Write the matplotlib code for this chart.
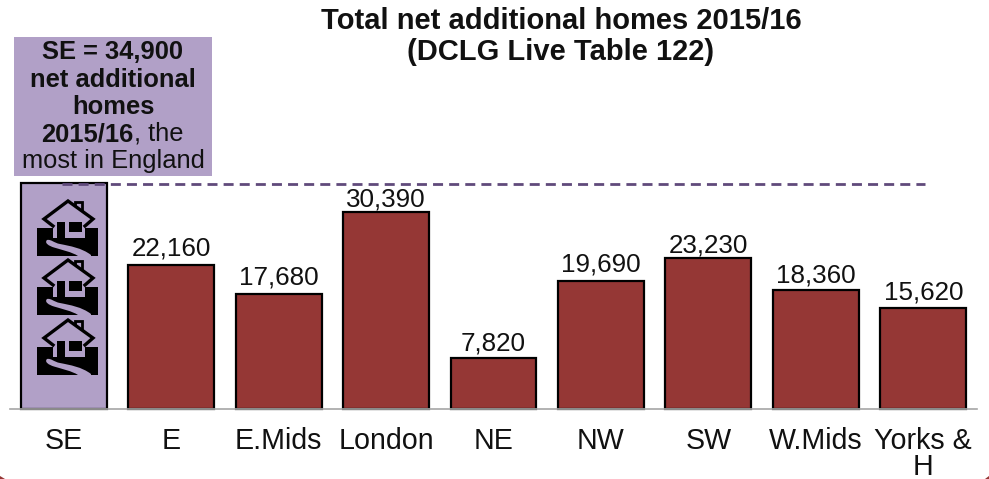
#!/usr/bin/env python3
# Total net additional homes by region, 2015/16

import matplotlib
matplotlib.use('Agg')
import matplotlib.pyplot as plt
from matplotlib.patches import Polygon, Rectangle, PathPatch
from matplotlib.path import Path

plt.rcParams['font.family'] = ['Liberation Sans', 'DejaVu Sans']

regions = ['SE', 'E', 'E.Mids', 'London', 'NE', 'NW', 'SW', 'W.Mids', 'Yorks &\nH']
homes = [34900, 22160, 17680, 30390, 7820, 19690, 23230, 18360, 15620]
bar_labels = ['', '22,160', '17,680', '30,390', '7,820', '19,690', '23,230', '18,360', '15,620']

PURPLE = '#B1A0C7'
RED = '#953735'
W, H = 989, 479

# label gap above each bar, in points
label_gap = [0, 3.2, 3.2, 0.6, 2.0, 3.4, 0.6, 2.0, 2.0]

fig = plt.figure(figsize=(W / 100, H / 100), dpi=100)
ax = fig.add_axes([10 / W, (H - 408.5) / H, 967 / W, 225.5 / H])

x = range(len(regions))
colors = [PURPLE] + [RED] * (len(regions) - 1)
ax.bar(x, homes, width=0.8, color=colors, edgecolor='black', linewidth=1.6, clip_on=False)
for i, lab in enumerate(bar_labels):
    if lab:
        ax.annotate(lab, (i, homes[i]), xytext=(0, label_gap[i]), textcoords='offset points',
                    ha='center', va='bottom', fontsize=18.7, color='#111111')

ax.set_xlim(-0.5, len(regions) - 0.5)
ax.set_ylim(0, 34900)
ax.set_yticks([])
ax.set_xticks(list(x))
ax.set_xticklabels(regions, fontsize=20.6, color='#111111', linespacing=0.95)
ax.tick_params(axis='x', length=0, pad=13)
for s in ['top', 'left', 'right']:
    ax.spines[s].set_visible(False)
ax.spines['bottom'].set_color('#A6A6A6')
ax.spines['bottom'].set_linewidth(1.2)

# overlay in pixel coordinates for the callout, dashed line and icons
ov = fig.add_axes([0, 0, 1, 1], facecolor='none')
ov.set_xlim(0, W)
ov.set_ylim(H, 0)
ov.axis('off')

ov.plot([62, 925], [184, 184], color='#604A7B', linewidth=2, linestyle=(0, (3.6, 2.2)))

ov.add_patch(Rectangle((14, 36.5), 197.5, 139.5, facecolor=PURPLE, edgecolor='none'))
box_lines = [('SE = 34,900', 52, 'bold'), ('net additional', 80, 'bold'), ('homes', 107, 'bold')]
for txt, yy, wt in box_lines:
    ov.text(113, yy, txt, ha='center', va='center', fontsize=18.4, fontweight=wt, color='#111111')
ov.text(133, 134, '2015/16', ha='right', va='center', fontsize=18.4, fontweight='bold', color='#111111')
ov.text(134, 134, ', the', ha='left', va='center', fontsize=18.4, color='#111111')
ov.text(113, 161, 'most in England', ha='center', va='center', fontsize=18.4, color='#111111')

ov.text(561, 21, 'Total net additional homes 2015/16', ha='center', va='center',
        fontsize=21, fontweight='bold', color='#111111')
ov.text(561, 52, '(DCLG Live Table 122)', ha='center', va='center',
        fontsize=21, fontweight='bold', color='#111111')


def draw_house(cx, top):
    def pts(seq):
        return [(cx + a, top + b) for a, b in seq]
    # ground block
    ov.add_patch(Polygon(pts([(-31, 28), (30, 28), (30, 56), (-31, 56)]),
                         facecolor='black', edgecolor='none'))
    # road
    road = [(-21, 40), (-17, 39), (-14, 43), (-8, 44), (2, 46), (14, 48), (23, 55),
            (23, 56), (10, 56), (4, 52), (-6, 50), (-14, 47.5), (-19, 46), (-24, 43), (-21, 40)]
    codes = [Path.MOVETO, Path.CURVE4, Path.CURVE4, Path.CURVE4, Path.CURVE4, Path.CURVE4, Path.CURVE4,
             Path.LINETO, Path.LINETO, Path.CURVE4, Path.CURVE4, Path.CURVE4, Path.CURVE4, Path.CURVE4, Path.CURVE4]
    ov.add_patch(PathPatch(Path(pts(road), codes), facecolor=PURPLE, edgecolor='none'))
    # chimney then house
    ov.add_patch(Rectangle((cx + 6.5, top + 2), 7, 15, facecolor=PURPLE, edgecolor='black', linewidth=2))
    ov.add_patch(Polygon(pts([(0, 1), (-24, 19), (-15, 25), (-15, 38), (17, 38), (17, 25), (25, 19)]),
                         facecolor=PURPLE, edgecolor='none'))
    ov.plot(*zip(*pts([(-15, 26), (-24, 19), (0, 1), (25, 19), (17, 26)])), color='black', linewidth=2.4,
            solid_joinstyle='miter')
    ov.add_patch(Rectangle((cx - 11, top + 22), 8, 16, facecolor='black', edgecolor='none'))
    ov.add_patch(Rectangle((cx + 1, top + 22), 13, 10, facecolor='black', edgecolor='none'))


for peak in [200, 259, 319]:
    draw_house(68, peak)

# slide border corners peeking in at the bottom
ov.add_patch(Polygon([(0, 476), (5, 479), (0, 479)], facecolor=RED, edgecolor='none'))
ov.add_patch(Polygon([(989, 476), (985, 479), (989, 479)], facecolor=RED, edgecolor='none'))

fig.savefig('out.png', dpi=100)
